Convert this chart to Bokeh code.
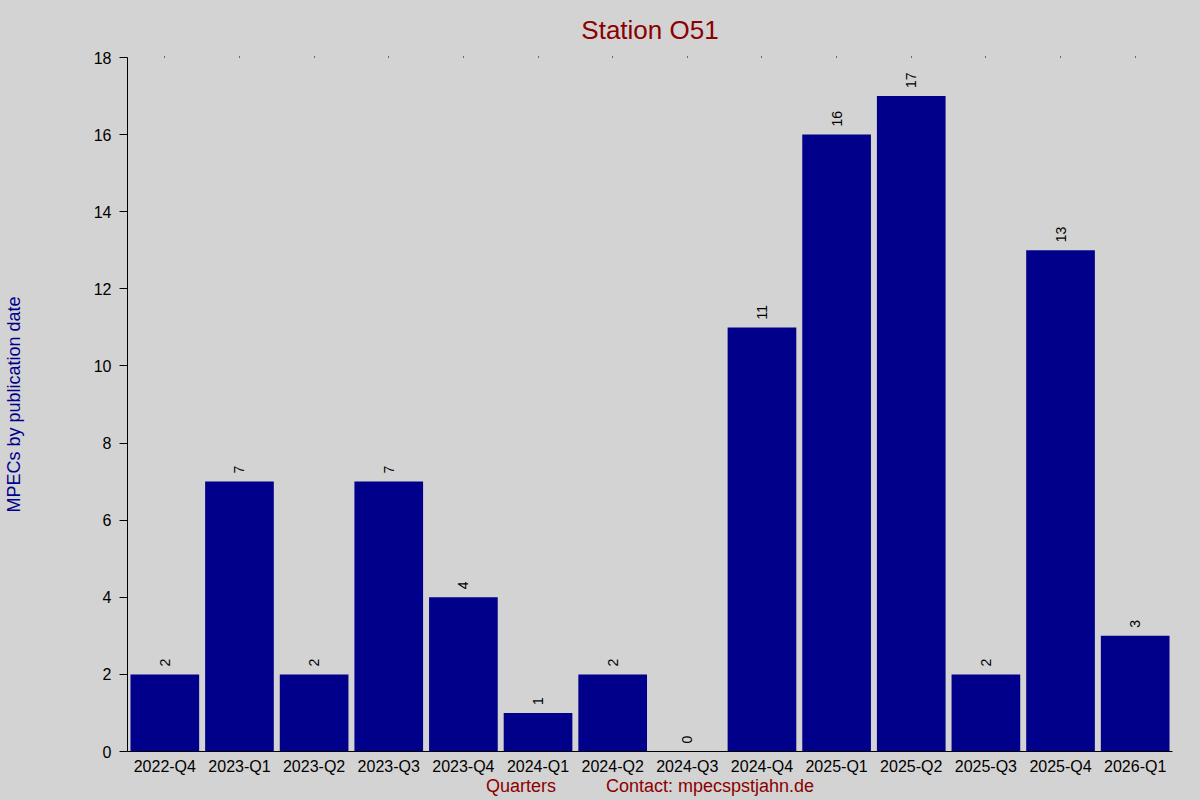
from math import pi
from bokeh.plotting import figure
from bokeh.models import (FactorRange, Range1d, SingleIntervalTicker, CategoricalAxis,
                          ColumnDataSource)
from bokeh.embed import file_html
from bokeh.resources import INLINE
from bokeh.core.properties import value

# ---- data ----
quarters = ["2022-Q4", "2023-Q1", "2023-Q2", "2023-Q3", "2023-Q4", "2024-Q1", "2024-Q2",
            "2024-Q3", "2024-Q4", "2025-Q1", "2025-Q2", "2025-Q3", "2025-Q4", "2026-Q1"]
mpecs = [2, 7, 2, 7, 4, 1, 2, 0, 11, 16, 17, 2, 13, 3]
title_text = "Station O51"
y_label = "MPECs by publication date"
x_label = "Quarters"
contact_text = "Contact: mpecspstjahn.de"

FONT = "Liberation Sans"
BG = "#D3D3D3"
BAR = "#00008B"
RED = "#8B0000"

src = ColumnDataSource(dict(q=quarters, v=mpecs, t=[str(v) for v in mpecs]))

p = figure(width=1200, height=800,
           x_range=FactorRange(factors=quarters, range_padding=0),
           y_range=Range1d(0, 18),
           title=title_text,
           output_backend="svg", toolbar_location=None,
           min_border_left=126, min_border_right=28,
           min_border_top=56, min_border_bottom=49)

p.background_fill_color = BG
p.border_fill_color = BG
p.outline_line_color = None
p.xgrid.grid_line_color = None
p.ygrid.grid_line_color = None

p.title.align = "center"
p.title.text_font = FONT
p.title.text_font_size = "26px"
p.title.text_font_style = "normal"
p.title.text_color = RED
p.title.standoff = 24

p.vbar(x="q", top="v", width=0.92, source=src, fill_color=BAR, line_color=None)

p.text(x="q", y="v", text="t", source=src, angle=pi / 2,
       text_align="left", text_baseline="middle", y_offset=-8,
       text_font=value(FONT), text_font_size="14px", text_color="black")

# y axis
ya = p.yaxis[0]
ya.ticker = SingleIntervalTicker(interval=2)
ya.major_tick_out = 8
ya.major_tick_in = 0
ya.minor_tick_line_color = None
ya.major_label_standoff = 8
ya.major_label_text_font = FONT
ya.major_label_text_font_size = "16px"
ya.major_label_text_color = "black"
ya.axis_line_color = "black"
ya.major_tick_line_color = "black"
ya.axis_label = y_label
ya.axis_label_text_font = FONT
ya.axis_label_text_font_size = "18px"
ya.axis_label_text_font_style = "normal"
ya.axis_label_text_color = BAR
ya.axis_label_standoff = 67

# x axis
xa = p.xaxis[0]
xa.major_tick_line_color = None
xa.major_tick_out = 0
xa.major_tick_in = 0
xa.minor_tick_line_color = None
xa.major_label_standoff = 6
xa.major_label_text_font = FONT
xa.major_label_text_font_size = "16px"
xa.major_label_text_color = "black"
xa.axis_line_color = "black"
xa.axis_label = x_label + "\u00a0" * 10 + contact_text
xa.axis_label_text_font = FONT
xa.axis_label_text_font_size = "18px"
xa.axis_label_text_font_style = "normal"
xa.axis_label_text_color = RED
xa.axis_label_standoff = -2

# top axis: tiny tick dots only, no labels
ta = CategoricalAxis()
ta.axis_line_color = None
ta.major_tick_in = 0
ta.major_tick_out = 1
ta.major_tick_line_color = "black"
ta.minor_tick_line_color = None
ta.major_label_text_font_size = "0px"
ta.major_label_text_color = None
ta.major_label_standoff = 0
p.add_layout(ta, "above")

template = """{% block preamble %}<style>body{background:#D3D3D3;}</style>{% endblock %}"""
open("out.html", "w").write(file_html(p, INLINE, template=template))
